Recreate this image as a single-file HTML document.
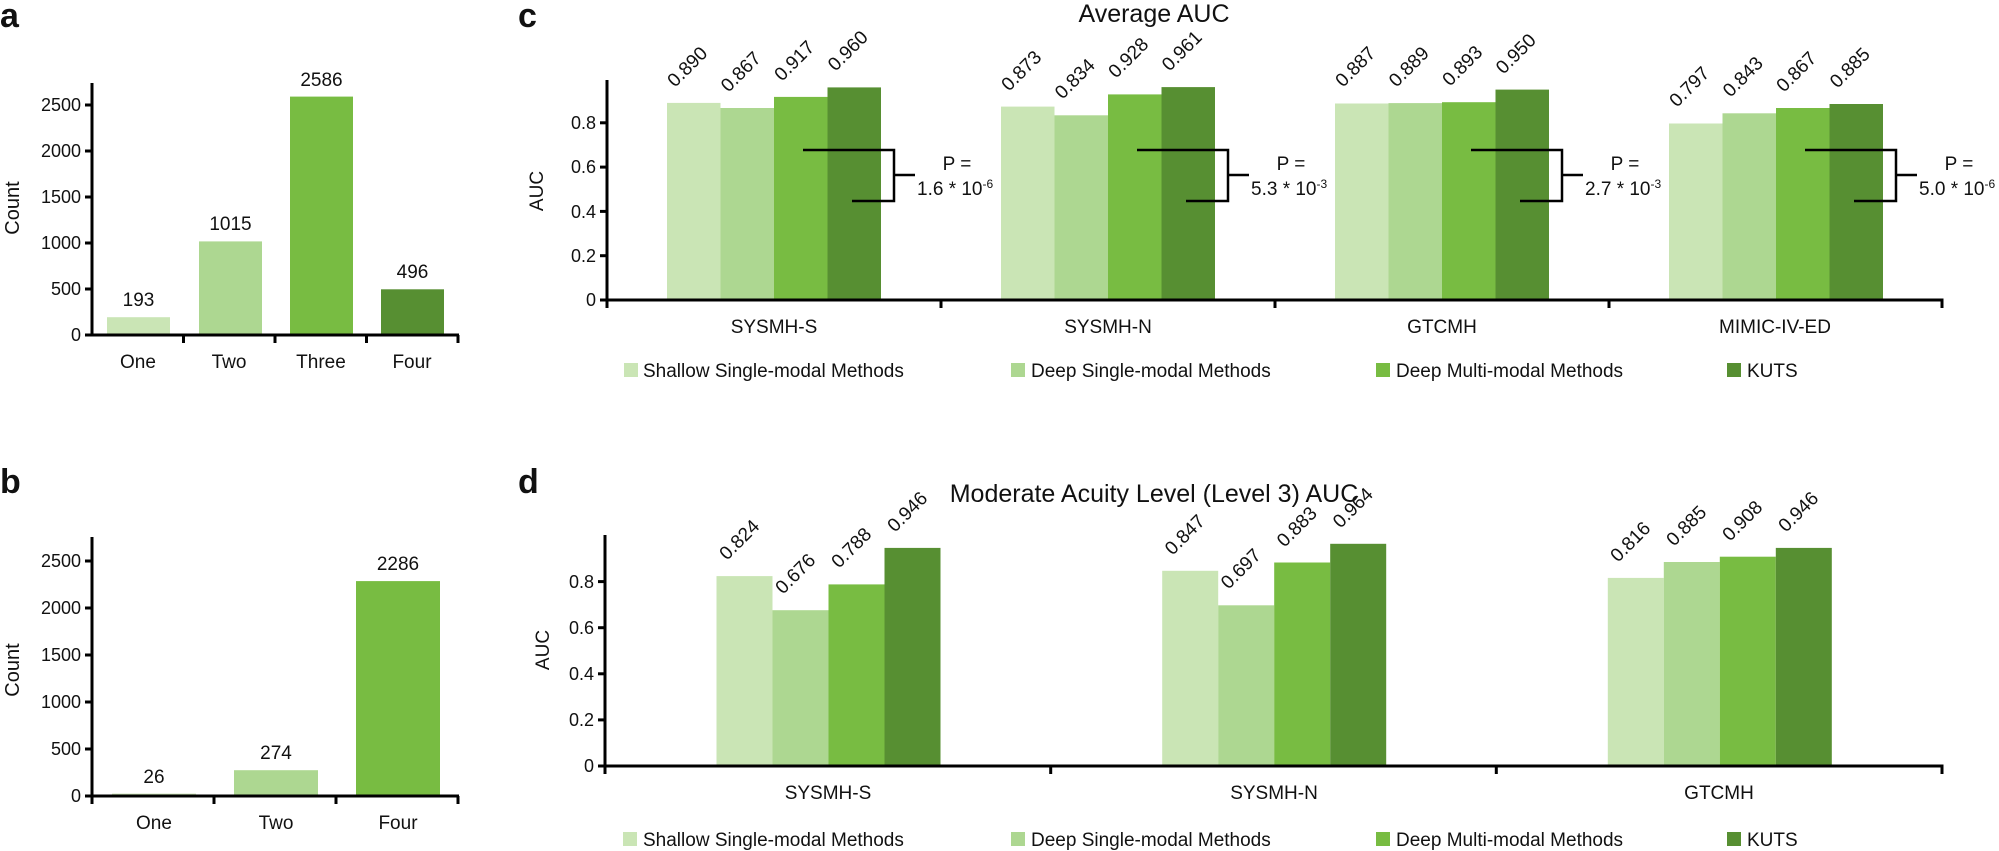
<!DOCTYPE html>
<html><head><meta charset="utf-8"><style>
html,body{margin:0;padding:0;background:#fff}
svg{display:block}
text{font-family:"Liberation Sans",Arial,sans-serif;fill:#111}
</style></head><body>
<svg width="1999" height="851" viewBox="0 0 1999 851" xmlns="http://www.w3.org/2000/svg">
<g font-weight="bold" font-size="34">
<text x="0" y="27">a</text><text x="0" y="493">b</text><text x="518" y="27">c</text><text x="518" y="493">d</text>
</g>

<!-- Panel a -->
<g>
<rect x="107" y="317.2" width="63" height="17.8" fill="#cae5b5"/>
<rect x="199" y="241.4" width="63" height="93.6" fill="#add791"/>
<rect x="290" y="96.6" width="63" height="238.4" fill="#78bc42"/>
<rect x="381" y="289.3" width="63" height="45.7" fill="#578f32"/>
<g stroke="#000" stroke-width="3" fill="none">
<line x1="92" y1="83" x2="92" y2="336.5"/><line x1="90.5" y1="335" x2="459" y2="335"/>
<line x1="85" y1="105" x2="92" y2="105"/><line x1="85" y1="151" x2="92" y2="151"/><line x1="85" y1="197" x2="92" y2="197"/><line x1="85" y1="243" x2="92" y2="243"/><line x1="85" y1="289" x2="92" y2="289"/><line x1="85" y1="335" x2="92" y2="335"/>
<line x1="183.5" y1="335" x2="183.5" y2="343"/><line x1="275" y1="335" x2="275" y2="343"/><line x1="366.5" y1="335" x2="366.5" y2="343"/><line x1="458" y1="335" x2="458" y2="343"/>
</g>
<g font-size="18" text-anchor="end">
<text x="81" y="111">2500</text><text x="81" y="157">2000</text><text x="81" y="203">1500</text><text x="81" y="249">1000</text><text x="81" y="295">500</text><text x="81" y="341">0</text>
</g>
<g font-size="19" text-anchor="middle">
<text x="138.5" y="306">193</text><text x="230.5" y="230">1015</text><text x="321.5" y="86">2586</text><text x="412.5" y="278">496</text>
<text x="138" y="368">One</text><text x="229" y="368">Two</text><text x="321" y="368">Three</text><text x="412" y="368">Four</text>
</g>
<text font-size="20" text-anchor="middle" transform="translate(19 208) rotate(-90)">Count</text>
</g>

<!-- Panel b -->
<g>
<rect x="112" y="793.6" width="84" height="2.4" fill="#cae5b5"/>
<rect x="234" y="770.2" width="84" height="25.8" fill="#add791"/>
<rect x="356" y="581.1" width="84" height="214.9" fill="#78bc42"/>
<g stroke="#000" stroke-width="3" fill="none">
<line x1="92" y1="537" x2="92" y2="797.5"/><line x1="90.5" y1="796" x2="459" y2="796"/>
<line x1="85" y1="561" x2="92" y2="561"/><line x1="85" y1="608" x2="92" y2="608"/><line x1="85" y1="655" x2="92" y2="655"/><line x1="85" y1="702" x2="92" y2="702"/><line x1="85" y1="749" x2="92" y2="749"/><line x1="85" y1="796" x2="92" y2="796"/>
<line x1="92" y1="796" x2="92" y2="804"/><line x1="214" y1="796" x2="214" y2="804"/><line x1="336" y1="796" x2="336" y2="804"/><line x1="458" y1="796" x2="458" y2="804"/>
</g>
<g font-size="18" text-anchor="end">
<text x="81" y="567">2500</text><text x="81" y="614">2000</text><text x="81" y="661">1500</text><text x="81" y="708">1000</text><text x="81" y="755">500</text><text x="81" y="802">0</text>
</g>
<g font-size="19" text-anchor="middle">
<text x="154" y="783">26</text><text x="276" y="759">274</text><text x="398" y="570">2286</text>
<text x="154" y="829">One</text><text x="276" y="829">Two</text><text x="398" y="829">Four</text>
</g>
<text font-size="20" text-anchor="middle" transform="translate(19 670) rotate(-90)">Count</text>
</g>

<!-- Panel c -->
<g>
<text x="1154" y="22" font-size="25" text-anchor="middle">Average AUC</text>
<g>
<rect x="667" y="102.9" width="53.5" height="197.1" fill="#cae5b5"/><rect x="720.5" y="108" width="53.5" height="192" fill="#add791"/><rect x="774" y="96.9" width="53.5" height="203.1" fill="#78bc42"/><rect x="827.5" y="87.4" width="53.5" height="212.6" fill="#578f32"/>
<rect x="1001" y="106.6" width="53.5" height="193.4" fill="#cae5b5"/><rect x="1054.5" y="115.3" width="53.5" height="184.7" fill="#add791"/><rect x="1108" y="94.4" width="53.5" height="205.6" fill="#78bc42"/><rect x="1161.5" y="87.1" width="53.5" height="212.9" fill="#578f32"/>
<rect x="1335" y="103.5" width="53.5" height="196.5" fill="#cae5b5"/><rect x="1388.5" y="103.1" width="53.5" height="196.9" fill="#add791"/><rect x="1442" y="102.2" width="53.5" height="197.8" fill="#78bc42"/><rect x="1495.5" y="89.6" width="53.5" height="210.4" fill="#578f32"/>
<rect x="1669" y="123.5" width="53.5" height="176.5" fill="#cae5b5"/><rect x="1722.5" y="113.3" width="53.5" height="186.7" fill="#add791"/><rect x="1776" y="108" width="53.5" height="192" fill="#78bc42"/><rect x="1829.5" y="104" width="53.5" height="196" fill="#578f32"/>
</g>
<g font-size="19">
<text transform="translate(675 88) rotate(-45)">0.890</text><text transform="translate(728.5 93) rotate(-45)">0.867</text><text transform="translate(782 82) rotate(-45)">0.917</text><text transform="translate(835.5 72) rotate(-45)">0.960</text>
<text transform="translate(1009 92) rotate(-45)">0.873</text><text transform="translate(1062.5 100) rotate(-45)">0.834</text><text transform="translate(1116 79) rotate(-45)">0.928</text><text transform="translate(1169.5 72) rotate(-45)">0.961</text>
<text transform="translate(1343 88) rotate(-45)">0.887</text><text transform="translate(1396.5 88) rotate(-45)">0.889</text><text transform="translate(1450 87) rotate(-45)">0.893</text><text transform="translate(1503.5 75) rotate(-45)">0.950</text>
<text transform="translate(1677 108) rotate(-45)">0.797</text><text transform="translate(1730.5 98) rotate(-45)">0.843</text><text transform="translate(1784 93) rotate(-45)">0.867</text><text transform="translate(1837.5 89) rotate(-45)">0.885</text>
</g>
<g stroke="#000" stroke-width="3" fill="none">
<line x1="607" y1="80" x2="607" y2="301.5"/><line x1="605.5" y1="300" x2="1943.5" y2="300"/>
<line x1="600" y1="300" x2="607" y2="300"/><line x1="600" y1="255.7" x2="607" y2="255.7"/><line x1="600" y1="211.4" x2="607" y2="211.4"/><line x1="600" y1="167.1" x2="607" y2="167.1"/><line x1="600" y1="122.8" x2="607" y2="122.8"/>
<line x1="607" y1="300" x2="607" y2="308"/><line x1="941" y1="300" x2="941" y2="308"/><line x1="1275" y1="300" x2="1275" y2="308"/><line x1="1609" y1="300" x2="1609" y2="308"/><line x1="1942" y1="300" x2="1942" y2="308"/>
</g>
<g stroke="#000" stroke-width="2.5" fill="none">
<path d="M803 150H894V201H852M894 175H915"/>
<path d="M1137 150H1228V201H1186M1228 175H1249"/>
<path d="M1471 150H1562V201H1520M1562 175H1583"/>
<path d="M1805 150H1896V201H1854M1896 175H1917"/>
</g>
<g font-size="19">
<text x="957" y="170" text-anchor="middle">P =</text><text x="917" y="195">1.6 * 10<tspan font-size="12" dy="-7">-6</tspan></text>
<text x="1291" y="170" text-anchor="middle">P =</text><text x="1251" y="195">5.3 * 10<tspan font-size="12" dy="-7">-3</tspan></text>
<text x="1625" y="170" text-anchor="middle">P =</text><text x="1585" y="195">2.7 * 10<tspan font-size="12" dy="-7">-3</tspan></text>
<text x="1959" y="170" text-anchor="middle">P =</text><text x="1919" y="195">5.0 * 10<tspan font-size="12" dy="-7">-6</tspan></text>
</g>
<g font-size="18" text-anchor="end">
<text x="596" y="306">0</text><text x="596" y="262">0.2</text><text x="596" y="218">0.4</text><text x="596" y="173">0.6</text><text x="596" y="129">0.8</text>
</g>
<text font-size="19" text-anchor="middle" transform="translate(543 191) rotate(-90)">AUC</text>
<g font-size="19" text-anchor="middle">
<text x="774" y="333">SYSMH-S</text><text x="1108" y="333">SYSMH-N</text><text x="1442" y="333">GTCMH</text><text x="1775" y="333">MIMIC-IV-ED</text>
</g>
<g font-size="19">
<rect x="624" y="363" width="14" height="14" fill="#cae5b5"/><text x="643" y="377">Shallow Single-modal Methods</text>
<rect x="1011" y="363" width="14" height="14" fill="#add791"/><text x="1031" y="377">Deep Single-modal Methods</text>
<rect x="1376" y="363" width="14" height="14" fill="#78bc42"/><text x="1396" y="377">Deep Multi-modal Methods</text>
<rect x="1727" y="363" width="14" height="14" fill="#578f32"/><text x="1747" y="377">KUTS</text>
</g>
</g>

<!-- Panel d -->
<g>
<text x="1154" y="502" font-size="25" text-anchor="middle">Moderate Acuity Level (Level 3) AUC</text>
<g>
<rect x="716.5" y="576.1" width="56" height="189.9" fill="#cae5b5"/><rect x="772.5" y="610.2" width="56" height="155.8" fill="#add791"/><rect x="828.5" y="584.4" width="56" height="181.6" fill="#78bc42"/><rect x="884.5" y="547.9" width="56" height="218.1" fill="#578f32"/>
<rect x="1162.2" y="570.8" width="56" height="195.2" fill="#cae5b5"/><rect x="1218.2" y="605.3" width="56" height="160.7" fill="#add791"/><rect x="1274.2" y="562.5" width="56" height="203.5" fill="#78bc42"/><rect x="1330.2" y="543.8" width="56" height="222.2" fill="#578f32"/>
<rect x="1607.8" y="577.9" width="56" height="188.1" fill="#cae5b5"/><rect x="1663.8" y="562" width="56" height="204" fill="#add791"/><rect x="1719.8" y="556.7" width="56" height="209.3" fill="#78bc42"/><rect x="1775.8" y="547.9" width="56" height="218.1" fill="#578f32"/>
</g>
<g font-size="19">
<text transform="translate(727 561) rotate(-45)">0.824</text><text transform="translate(783 595) rotate(-45)">0.676</text><text transform="translate(839 569) rotate(-45)">0.788</text><text transform="translate(895 533) rotate(-45)">0.946</text>
<text transform="translate(1172.5 556) rotate(-45)">0.847</text><text transform="translate(1228.5 590) rotate(-45)">0.697</text><text transform="translate(1284.5 548) rotate(-45)">0.883</text><text transform="translate(1340.5 529) rotate(-45)">0.964</text>
<text transform="translate(1618 563) rotate(-45)">0.816</text><text transform="translate(1674 547) rotate(-45)">0.885</text><text transform="translate(1730 542) rotate(-45)">0.908</text><text transform="translate(1786 533) rotate(-45)">0.946</text>
</g>
<g stroke="#000" stroke-width="3" fill="none">
<line x1="605" y1="535" x2="605" y2="767.5"/><line x1="603.5" y1="766" x2="1943.5" y2="766"/>
<line x1="598" y1="766" x2="605" y2="766"/><line x1="598" y1="719.9" x2="605" y2="719.9"/><line x1="598" y1="673.8" x2="605" y2="673.8"/><line x1="598" y1="627.7" x2="605" y2="627.7"/><line x1="598" y1="581.6" x2="605" y2="581.6"/>
<line x1="605" y1="766" x2="605" y2="774"/><line x1="1050.7" y1="766" x2="1050.7" y2="774"/><line x1="1496.3" y1="766" x2="1496.3" y2="774"/><line x1="1942" y1="766" x2="1942" y2="774"/>
</g>
<g font-size="18" text-anchor="end">
<text x="594" y="772">0</text><text x="594" y="726">0.2</text><text x="594" y="680">0.4</text><text x="594" y="634">0.6</text><text x="594" y="588">0.8</text>
</g>
<text font-size="19" text-anchor="middle" transform="translate(549 650) rotate(-90)">AUC</text>
<g font-size="19" text-anchor="middle">
<text x="828" y="799">SYSMH-S</text><text x="1274" y="799">SYSMH-N</text><text x="1719" y="799">GTCMH</text>
</g>
<g font-size="19">
<rect x="623" y="832" width="14" height="14" fill="#cae5b5"/><text x="643" y="846">Shallow Single-modal Methods</text>
<rect x="1011" y="832" width="14" height="14" fill="#add791"/><text x="1031" y="846">Deep Single-modal Methods</text>
<rect x="1376" y="832" width="14" height="14" fill="#78bc42"/><text x="1396" y="846">Deep Multi-modal Methods</text>
<rect x="1727" y="832" width="14" height="14" fill="#578f32"/><text x="1747" y="846">KUTS</text>
</g>
</g>
</svg>
</body></html>
